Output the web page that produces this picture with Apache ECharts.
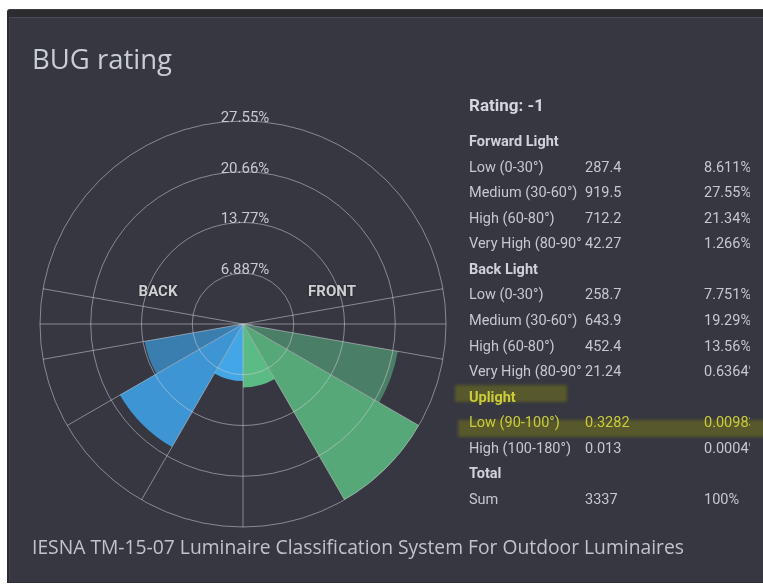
<!DOCTYPE html>
<html>
<head>
<meta charset="utf-8">
<title>BUG rating</title>
<script src="https://cdn.jsdelivr.net/npm/echarts@6/dist/echarts.min.js"></script>
<style>
  html, body { margin: 0; padding: 0; background: #ffffff; }
  #frame { position: absolute; left: 7px; top: 9px; width: 770px; height: 573px; background: #2b2b30; border-top: 1px solid #3d3d40; border-radius: 3px 0 0 0; }
  #panel { position: absolute; left: 9px; top: 17px; width: 770px; height: 564px; background: #363740; border-top: 1px solid #4a4b54; border-left: 1px solid #3f4048; }
  #chart { position: absolute; left: 0; top: 0; width: 763px; height: 584px; }
  #table { position: absolute; left: 0; top: 0; width: 763px; height: 584px; font-family: Roboto, sans-serif; color: #c6c8ce; pointer-events: none; }
  .cell { position: absolute; white-space: nowrap; overflow: hidden; font-size: 14.5px; line-height: 18px; }
  .head { font-weight: bold; font-size: 14.5px; color: #d0d2d8; }
  .rating { font-weight: bold; font-size: 17px; line-height: 20px; color: #d4d6dc; }
  .mark { position: absolute; background: rgba(160, 160, 0, 0.32); filter: blur(1.5px); }
  .hl { color: #cccc3c; }
</style>
</head>
<body>
<div id="frame"></div>
<div id="panel"></div>
<div id="chart"></div>
<div id="table"></div>
<script>
// ---- data ----
const zoneLabels = ['Low (0-30°)', 'Medium (30-60°)', 'High (60-80°)', 'Very High (80-90°)'];
const zoneStart = [0, 30, 60, 80];
const zoneEnd = [30, 60, 80, 90];
const frontLumens = [287.4, 919.5, 712.2, 42.27];
const frontPercent = [8.611, 27.55, 21.34, 1.266];
const backLumens = [258.7, 643.9, 452.4, 21.24];
const backPercent = [7.751, 19.29, 13.56, 0.6364];
const uplightLabels = ['Low (90-100°)', 'High (100-180°)'];
const uplightStart = [90, 100];
const uplightEnd = [100, 180];
const uplightLumens = [0.3282, 0.013];
const uplightPercent = [0.009835, 0.0004];
const totalLumens = 3337;
const ringTicks = [6.887, 13.77, 20.66, 27.55];
const spokeAngles = [0, 30, 60, 80, 90, 100, -30, -60, -80, -90, -100];
const ratingText = 'Rating: -1';

// ---- styles ----
const frontColors = ['#5bbb84', '#56a879', '#4b7e67', '#4b7e67'];
const backColors = ['#43a6e6', '#3e95d4', '#3a7eb0', '#3a7eb0'];
const uplightColor = '#c8c83a';
const gridColor = 'rgba(205,205,212,0.55)';

const radiusMax = 27.55;

// sectors: [percent, fromAngle, toAngle]; back side uses negative angles
const sectors = [];
zoneLabels.forEach((_, i) => {
  sectors.push({ value: [frontPercent[i], zoneStart[i], zoneEnd[i]], itemStyle: { color: frontColors[i] } });
  sectors.push({ value: [backPercent[i], -zoneEnd[i], -zoneStart[i]], itemStyle: { color: backColors[i] } });
});
uplightLabels.forEach((_, i) => {
  sectors.push({ value: [uplightPercent[i], uplightStart[i], uplightEnd[i]], itemStyle: { color: uplightColor } });
  sectors.push({ value: [uplightPercent[i], -uplightEnd[i], -uplightStart[i]], itemStyle: { color: uplightColor } });
});

function screenAngle(c, p) { return Math.atan2(p[1] - c[1], p[0] - c[0]); }

function renderSector(params, api) {
  const v = api.value(0), a0 = api.value(1), a1 = api.value(2);
  const c = api.coord([0, 0]);
  const pr = api.coord([v, a0]);
  const r = Math.hypot(pr[0] - c[0], pr[1] - c[1]);
  // angles grow counter-clockwise on screen, so sweep clockwise from a1 to a0
  let s = screenAngle(c, api.coord([radiusMax, a1]));
  let e = screenAngle(c, api.coord([radiusMax, a0]));
  while (e <= s) e += Math.PI * 2;
  return {
    type: 'sector',
    shape: { cx: c[0], cy: c[1], r0: 0, r: r, startAngle: s, endAngle: e, clockwise: true },
    style: { fill: api.visual('color') }
  };
}

function renderSpoke(params, api) {
  const c = api.coord([0, 0]);
  const p = api.coord([radiusMax, api.value(0)]);
  return {
    type: 'line',
    shape: { x1: c[0], y1: c[1], x2: p[0], y2: p[1] },
    style: { stroke: gridColor, lineWidth: 1 }
  };
}

function renderRingLabel(params, api) {
  const v = api.value(0);
  const p = api.coord([v, 180]);
  return {
    type: 'text',
    x: p[0] + 2, y: p[1] - 3,
    style: {
      text: v + '%', fill: '#c8c9cd', font: '15px Roboto, sans-serif',
      align: 'center', verticalAlign: 'middle'
    }
  };
}

const chart = echarts.init(document.getElementById('chart'), null, { renderer: 'canvas' });
chart.setOption({
  backgroundColor: 'transparent',
  animation: false,
  polar: { center: [243, 324], radius: 203 },
  angleAxis: {
    type: 'value', min: -180, max: 180, startAngle: 90, clockwise: false,
    axisLine: { show: false }, axisTick: { show: false }, axisLabel: { show: false }, splitLine: { show: false }
  },
  radiusAxis: {
    type: 'value', min: 0, max: radiusMax, interval: radiusMax / 4, z: 10,
    axisLine: { show: false }, axisTick: { show: false }, axisLabel: { show: false },
    splitLine: { show: true, lineStyle: { color: gridColor, width: 1 } }
  },
  series: [
    {
      type: 'custom', coordinateSystem: 'polar', z: 2,
      encode: { radius: 0, angle: [1, 2] },
      renderItem: renderSector, data: sectors, silent: true
    },
    {
      type: 'custom', coordinateSystem: 'polar', z: 11,
      encode: { angle: 0 },
      renderItem: renderSpoke, data: spokeAngles.map(a => [a]), silent: true
    },
    {
      type: 'custom', coordinateSystem: 'polar', z: 12,
      encode: { radius: 0 },
      renderItem: renderRingLabel, data: ringTicks.map(v => [v]), silent: true
    }
  ],
  graphic: [
    { type: 'text', x: 32, y: 61, style: { text: 'BUG rating', fill: '#c9ced6', font: '27.5px "Open Sans", sans-serif', verticalAlign: 'middle' } },
    { type: 'text', x: 32, y: 548.5, style: { text: 'IESNA TM-15-07 Luminaire Classification System For Outdoor Luminaires', fill: '#c0c4ca', font: '19.3px "Open Sans", sans-serif', verticalAlign: 'middle' } },
    { type: 'text', x: 158, y: 292, style: { text: 'BACK', fill: '#cfd0d4', font: 'bold 15px Roboto, sans-serif', align: 'center', verticalAlign: 'middle', textShadowColor: 'rgba(0,0,0,0.6)', textShadowBlur: 2 } },
    { type: 'text', x: 332, y: 292, style: { text: 'FRONT', fill: '#cfd0d4', font: 'bold 15px Roboto, sans-serif', align: 'center', verticalAlign: 'middle', textShadowColor: 'rgba(0,0,0,0.6)', textShadowBlur: 2 } }
  ]
});

// ---- summary table ----
const table = document.getElementById('table');
const colX = [469, 585, 704];
const colW = [112, 110, 46];
function addCell(x, yMid, w, text, cls) {
  const d = document.createElement('div');
  d.className = 'cell' + (cls ? ' ' + cls : '');
  d.style.left = x + 'px';
  d.style.top = (yMid - 9) + 'px';
  if (w) d.style.width = w + 'px';
  d.textContent = text;
  table.appendChild(d);
}
function addMark(x, y, w, h) {
  const m = document.createElement('div');
  m.className = 'mark';
  m.style.left = x + 'px'; m.style.top = y + 'px';
  m.style.width = w + 'px'; m.style.height = h + 'px';
  table.appendChild(m);
}
function addRow(y, label, lumens, pct, cls) {
  addCell(colX[0], y, colW[0], label, cls);
  addCell(colX[1], y, colW[1], String(lumens), cls);
  addCell(colX[2], y, colW[2], pct + '%', cls);
}

addMark(455, 385, 112, 17);
addMark(458, 420, 320, 17);

const rowStep = 25.57;
let y = 142;
addCell(469, 104, null, ratingText, 'rating');
addCell(469, y, null, 'Forward Light', 'head'); y += rowStep;
zoneLabels.forEach((l, i) => { addRow(y, l, frontLumens[i], frontPercent[i]); y += rowStep; });
addCell(469, y, null, 'Back Light', 'head'); y += rowStep;
zoneLabels.forEach((l, i) => { addRow(y, l, backLumens[i], backPercent[i]); y += rowStep; });
addCell(469, y, null, 'Uplight', 'head hl'); y += rowStep;
uplightLabels.forEach((l, i) => { addRow(y, l, uplightLumens[i], uplightPercent[i], i === 0 ? 'hl' : ''); y += rowStep; });
addCell(469, y, null, 'Total', 'head'); y += rowStep;
addRow(y, 'Sum', totalLumens, 100);
</script>
</body>
</html>
